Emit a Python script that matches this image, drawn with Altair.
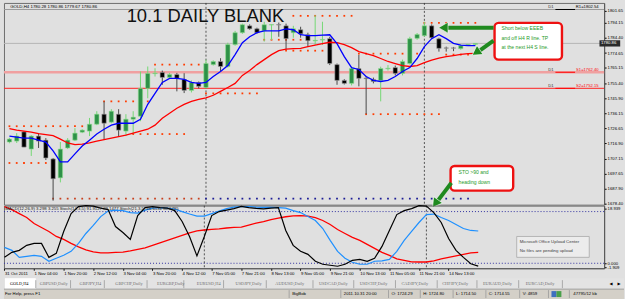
import altair as alt
import pandas as pd

# ------------------------------------------------------------------ data
bar = list(range(65))
open_ = [1717.8, 1718.4, 1724.29, 1713.3, 1721.6, 1719.0, 1707.0, 1694.9, 1714.0, 1719.0,
         1724.1, 1724.8, 1729.2, 1735.6, 1730.5, 1735.6, 1724.8, 1732.4, 1734.3, 1752.1,
         1761.5, 1762.3, 1759.1, 1761.0, 1757.8, 1750.8, 1755.9, 1752.7, 1767.3, 1769.3,
         1766.1, 1780.1, 1787.7, 1792.1, 1790.2, 1788.9, 1792.6, 1792.9, 1792.1, 1787.7,
         1789.6, 1786.4, 1782.4, 1783.0, 1783.9, 1767.3, 1757.2, 1755.3, 1764.8, 1758.7,
         1757.8, 1757.2, 1764.6, 1765.4, 1761.7, 1768.0, 1784.1, 1785.8, 1792.1, 1783.8,
         1778.0, 1778.0, 1777.5, 1779.5, 1780.28]
high = [1720.5, 1723.5, 1724.80, 1722.2, 1723.5, 1720.3, 1707.6, 1717.8, 1720.3, 1726.7,
        1726.0, 1733.2, 1737.5, 1743.8, 1738.8, 1738.8, 1735.6, 1737.5, 1762.9, 1766.1,
        1765.0, 1763.5, 1762.0, 1762.0, 1761.8, 1757.2, 1756.5, 1770.5, 1770.0, 1771.4,
        1781.3, 1788.9, 1793.5, 1793.0, 1790.9, 1794.7, 1793.0, 1794.2, 1793.5, 1792.1,
        1791.5, 1787.7, 1798.9, 1794.7, 1785.1, 1768.0, 1758.0, 1766.1, 1773.5, 1760.0,
        1759.0, 1766.0, 1767.0, 1766.7, 1770.5, 1785.1, 1787.5, 1794.7, 1793.0, 1784.5,
        1778.8, 1778.6, 1780.1, 1780.4, 1780.86]
low = [1717.0, 1717.2, 1714.50, 1708.9, 1714.0, 1706.3, 1680.3, 1692.0, 1713.3, 1718.4,
       1723.5, 1721.6, 1728.6, 1719.7, 1729.8, 1721.6, 1721.6, 1722.9, 1731.1, 1745.8,
       1759.7, 1754.4, 1758.5, 1750.2, 1749.1, 1749.5, 1752.1, 1752.0, 1766.7, 1762.9,
       1765.4, 1779.4, 1787.0, 1789.6, 1787.0, 1782.0, 1783.0, 1785.1, 1776.9, 1784.5,
       1784.5, 1778.8, 1779.9, 1779.9, 1767.0, 1754.4, 1754.6, 1754.0, 1753.4, 1735.6,
       1755.3, 1743.8, 1763.5, 1760.4, 1760.4, 1767.3, 1783.2, 1785.2, 1783.9, 1775.6,
       1775.6, 1775.9, 1776.8, 1779.2, 1779.67]
close = [1719.7, 1721.6, 1714.55, 1721.6, 1718.4, 1707.6, 1694.3, 1713.3, 1719.0, 1723.5,
         1725.4, 1729.2, 1735.6, 1729.8, 1737.5, 1725.4, 1732.4, 1733.7, 1752.1, 1761.7,
         1761.9, 1759.1, 1761.0, 1758.5, 1750.8, 1755.9, 1753.4, 1768.0, 1769.3, 1766.1,
         1780.1, 1787.7, 1792.8, 1790.2, 1787.7, 1792.8, 1792.9, 1792.6, 1783.9, 1790.2,
         1787.0, 1782.6, 1782.8, 1783.4, 1768.0, 1757.2, 1755.3, 1764.8, 1758.5, 1758.3,
         1756.5, 1764.8, 1765.0, 1761.7, 1769.3, 1783.9, 1786.6, 1792.1, 1784.5, 1777.7,
         1777.8, 1777.8, 1779.4, 1780.2, 1780.86]

ma_fast = [1721.6, 1720.9, 1720.3, 1720.3, 1719.0, 1717.8, 1712.1, 1705.1, 1705.1, 1710.2,
           1715.2, 1719.0, 1722.9, 1726.0, 1728.6, 1729.8, 1729.8, 1729.8, 1732.4, 1741.9,
           1748.9, 1755.9, 1758.5, 1758.5, 1757.8, 1755.9, 1755.3, 1755.9, 1759.7, 1762.9,
           1766.7, 1773.7, 1781.3, 1785.1, 1787.7, 1788.9, 1788.9, 1788.9, 1790.2, 1789.6,
           1786.4, 1785.8, 1785.8, 1786.1, 1786.4, 1780.7, 1772.4, 1765.4, 1764.2, 1759.7,
           1757.2, 1756.5, 1757.2, 1759.7, 1762.9, 1765.4, 1771.2, 1778.8, 1783.9, 1786.4,
           1783.9, 1780.9, 1779.7, 1779.4, 1779.4]
ma_slow = [1726.4, 1725.4, 1724.8, 1724.1, 1723.2, 1722.5, 1721.9, 1719.7, 1717.2, 1716.2,
           1716.5, 1717.2, 1718.4, 1719.4, 1720.3, 1721.3, 1722.2, 1723.5, 1724.8, 1726.0,
           1728.6, 1733.0, 1736.2, 1739.4, 1741.9, 1743.8, 1745.1, 1746.1, 1747.7, 1750.2,
           1752.7, 1755.3, 1760.4, 1763.5, 1767.3, 1770.5, 1773.7, 1776.2, 1777.2, 1777.5,
           1777.7, 1778.8, 1779.7, 1780.7, 1781.6, 1781.3, 1780.1, 1778.2, 1775.6, 1774.3,
           1773.1, 1771.2, 1769.3, 1768.0, 1766.7, 1766.1, 1766.7, 1768.6, 1770.2, 1771.5,
           1772.4, 1773.1, 1773.9, 1774.3, 1774.5]

sto_main = [19.2, 26.9, 30.0, 37.7, 40.8, 40.8, 19.2, 25.4, 59.2, 86.9,
            97.7, 99.2, 98.4, 95.4, 93.1, 66.9, 57.7, 46.9, 83.8, 96.1,
            97.7, 96.1, 95.4, 91.5, 74.6, 51.5, 21.5, 51.5, 83.8, 90.0,
            92.3, 94.6, 98.1, 96.1, 95.0, 94.2, 95.4, 96.1, 60.8, 37.7,
            28.5, 23.8, 13.1, 8.5, 6.9, 5.4, 8.5, 14.6, 16.1, 13.1,
            17.7, 36.1, 60.8, 85.4, 91.5, 94.6, 99.2, 98.4, 88.5, 73.1,
            48.4, 30.0, 19.2, 9.2, 5.6]
sto_signal = [34.6, 30.0, 19.2, 20.8, 22.3, 20.8, 13.1, 17.7, 22.3, 28.5,
              40.8, 56.1, 68.5, 82.3, 90.8, 92.3, 91.5, 88.5, 87.7, 92.3,
              95.4, 96.1, 95.4, 93.8, 90.0, 86.2, 83.1, 83.1, 86.9, 90.8,
              94.6, 96.9, 97.7, 97.7, 96.9, 96.6, 96.6, 96.1, 95.4, 91.5,
              88.5, 82.3, 76.2, 63.8, 45.4, 28.5, 17.7, 11.5, 8.5, 8.5,
              13.1, 13.8, 16.1, 28.5, 45.4, 59.2, 73.1, 85.4, 86.2, 80.8,
              76.2, 70.0, 63.8, 60.8, 60.0]
osc_slow = [97.7, 93.1, 86.9, 80.8, 71.5, 65.4, 59.2, 51.5, 46.9, 40.8,
            35.4, 30.8, 27.7, 26.1, 26.1, 26.9, 27.4, 29.2, 31.5, 33.8,
            37.7, 41.5, 45.4, 49.2, 53.1, 56.9, 60.0, 61.5, 62.6, 63.4,
            64.6, 65.7, 66.1, 69.2, 72.3, 74.6, 77.7, 80.0, 82.0, 83.5,
            83.8, 83.1, 80.8, 76.2, 70.0, 62.3, 56.1, 50.0, 45.4, 39.2,
            33.1, 26.9, 22.3, 16.9, 14.6, 12.3, 12.0, 12.0, 13.8, 16.9,
            19.2, 21.5, 23.8, 26.1, 27.0]

price_ticks = [1801.65, 1794.15, 1784.40, 1774.65, 1765.15, 1755.40, 1745.90,
               1736.15, 1726.65, 1716.90, 1707.15, 1697.65, 1687.90, 1678.40]
osc_ticks = [94.6, 10.0, 3.9]
osc_tick_labels = ["18.939", "0.000", "-1.909"]
osc_levels = [90, 10]

time_ticks = [0, 4, 8, 12, 16, 20, 24, 28, 32, 36, 40, 44, 48, 52, 56, 60]
time_labels = ["31 Oct 2011", "1 Nov 04:00", "1 Nov 20:00", "2 Nov 12:00", "3 Nov 04:00",
               "3 Nov 20:00", "4 Nov 12:00", "7 Nov 05:00", "7 Nov 21:00", "8 Nov 13:00",
               "9 Nov 05:00", "9 Nov 21:00", "10 Nov 13:00", "11 Nov 05:00", "11 Nov 21:00",
               "14 Nov 13:00"]

week_separators = [27, 57]
bid_price = 1780.86
pivot_names = ["R1", "S1", "S2"]
pivot_levels = [1802.54, 1762.40, 1752.15]

dot_levels = [1767.3, 1748.9, 1798.5, 1794.0, 1783.2, 1776.2, 1774.3, 1773.7, 1735.6,
              1743.8, 1727.9, 1722.9, 1704.4, 1681.6, 1681.6]
dot_start = [20, 27, 39, 57, 35, 38, 48, 60, 49, 13, 0, 17, 0, 6, 27]
dot_end = [26, 34, 47, 64, 41, 44, 56, 63, 59, 19, 10, 24, 5, 26, 63]
dot_colors = ["#ff3c00"] * 13 + ["#c8401e", "#1e1e96"]

header_text = "GOLD,H4  1780.28 1780.86 1779.67 1780.86"
osc_header = "MACD(12,26,9) 3.298 3.255  Stoch(14,3,5) 91.9127 89.1477  Stoch(21,3,5) 66.6531 80.6795"
chart_title = "10.1 DAILY BLANK"
note1 = ["Short below EEEB", "and off H4 R line. TP", "at the next H4 S line."]
note2 = ["STO >90 and", "heading down"]
popup = ["Microsoft Office Upload Center", "No files are pending upload"]

tabs = ["GOLD,H4", "GBPUSD,Daily", "GBPJPY,H4", "GBPCHF,Daily", "EURGBP,Daily", "EURUSD,H4",
        "USDJPY,Daily", "AUDUSD,Daily", "USDCAD,Daily", "USDCHF,Daily", "CADJPY,Daily",
        "CHFJPY,Daily", "EURAUD,Daily", "EURCAD,Daily"]
status = ["For Help, press F1", "BigBob", "2011.10.31 20:00", "O: 1724.29", "H: 1724.80",
          "L: 1714.50", "C: 1714.55", "V: 4859", "47795/12 kb"]

# ------------------------------------------------------------------ layout / style
FONT = "Liberation Sans"
NARROW = "Liberation Sans Narrow"
W = 604
H_MAIN = 203
H_OSC = 63
x_scale = alt.Scale(domain=[-0.067, 81.01], nice=False, zero=False)
p_scale = alt.Scale(domain=[1677.76, 1806.73], nice=False, zero=False)
o_scale = alt.Scale(domain=[2.3, 99.2], nice=False, zero=False)

price_axis = alt.Axis(orient="right", values=price_ticks, format=".2f", title=None, grid=False,
                      labelFont=FONT, labelFontSize=4.3, labelColor="#000", labelPadding=1,
                      labelFlush=False, labelOverlap=False, tickSize=2, tickColor="#000",
                      domainColor="#555", domainWidth=1)

osc_label_expr = ("[" + ",".join(f"'{t}'" for t in osc_tick_labels) + "][indexof(["
                  + ",".join(str(v) for v in osc_ticks) + "], datum.value)]")
osc_axis = alt.Axis(orient="right", values=osc_ticks, labelExpr=osc_label_expr, title=None,
                    grid=False, labelFont=FONT, labelFontSize=4.2, labelColor="#000",
                    labelPadding=1, labelFlush=False, labelOverlap=False, tickSize=2,
                    tickColor="#000", domainColor="#555")

time_label_expr = ("[" + ",".join(f"'{t}'" for t in time_labels) + "][indexof(["
                   + ",".join(str(v) for v in time_ticks) + "], datum.value)]")
time_axis = alt.Axis(values=time_ticks, labelExpr=time_label_expr, title=None, grid=False,
                     labelFont=FONT, labelFontSize=4.3, labelColor="#000", labelAlign="left",
                     labelBaseline="top", labelPadding=1, labelFlush=False,
                     labelOverlap=False, tickSize=2, tickColor="#000", domainColor="#555")


def X(field="i"):
    return alt.X(f"{field}:Q", scale=x_scale, axis=None)


def XO(field="i"):
    return alt.X(f"{field}:Q", scale=x_scale, axis=time_axis)


def P(field="p"):
    return alt.Y(f"{field}:Q", scale=p_scale, axis=price_axis)


def O(field="v"):
    return alt.Y(f"{field}:Q", scale=o_scale, axis=osc_axis)


# ------------------------------------------------------------------ frames
cdf = pd.DataFrame({"i": bar, "o": open_, "h": high, "l": low, "c": close})
cdf["dir"] = ["up" if c >= o else "down" for o, c in zip(open_, close)]
dir_dom = ["up", "down"]

ma_df = pd.DataFrame({"i": bar, "fast": ma_fast, "slow": ma_slow})
osc_df = pd.DataFrame({"i": bar, "main": sto_main, "sig": sto_signal, "slow": osc_slow})

dots = []
for lvl, s, e, col in zip(dot_levels, dot_start, dot_end, dot_colors):
    for k in range(s, e + 1):
        dots.append({"i": k, "p": lvl, "col": col})
dot_df = pd.DataFrame(dots)

piv_df = pd.DataFrame({"name": pivot_names, "p": pivot_levels,
                       "label": [f"{n}={v:.2f}" for n, v in zip(pivot_names, pivot_levels)],
                       "col": ["#000000", "#ff0000", "#ff0000"],
                       "i1": [75.0] * 3, "i2": [77.7] * 3, "iD": [74.0] * 3, "iL": [81.0] * 3})
sep_df = pd.DataFrame({"i": week_separators})

# ------------------------------------------------------------------ main panel
lvl_rules = alt.Chart(pd.DataFrame({"p": [pivot_levels[0]]})).mark_rule(
    color="#9a9a9a", strokeWidth=1).encode(y=P())
s1_rule = alt.Chart(pd.DataFrame({"p": [pivot_levels[1]]})).mark_rule(
    color="#f0a0a0", strokeWidth=2.5).encode(y=P())
s2_rule = alt.Chart(pd.DataFrame({"p": [pivot_levels[2]]})).mark_rule(
    color="#ff2020", strokeWidth=1).encode(y=P())
bid_rule = alt.Chart(pd.DataFrame({"p": [bid_price]})).mark_rule(
    color="#b4b4b4", strokeWidth=1).encode(y=P())
sep_rule = alt.Chart(sep_df).mark_rule(color="#303030", strokeWidth=0.8,
                                       strokeDash=[2, 2]).encode(x=X())
dot_layer = alt.Chart(dot_df).mark_square(size=3.2, opacity=1).encode(
    x=X(), y=P(), color=alt.Color("col:N", scale=None))

wicks = alt.Chart(cdf).mark_rule(strokeWidth=1).encode(
    x=X(), y=P("l"), y2="h:Q",
    color=alt.Color("dir:N", scale=alt.Scale(domain=dir_dom, range=["#74d874", "#4a4a4a"]),
                    legend=None))
bodies = alt.Chart(cdf).mark_bar(size=4.4, strokeWidth=0.6).encode(
    x=X(), y=P("o"), y2="c:Q",
    fill=alt.Fill("dir:N", scale=alt.Scale(domain=dir_dom, range=["#2e9148", "#000000"]),
                  legend=None),
    stroke=alt.Stroke("dir:N", scale=alt.Scale(domain=dir_dom, range=["#8fe08f", "#a0a0a0"]),
                      legend=None))

slow_line = alt.Chart(ma_df).mark_line(color="#ff0000", strokeWidth=1.3).encode(x=X(), y=P("slow"))
fast_line = alt.Chart(ma_df).mark_line(color="#0000ff", strokeWidth=1.3).encode(x=X(), y=P("fast"))

piv_seg = alt.Chart(piv_df).mark_rule(strokeWidth=1).encode(
    x=X("i1"), x2="i2:Q", y=P(), color=alt.Color("col:N", scale=None))
piv_d1 = alt.Chart(piv_df).mark_text(text="D1", font=FONT, fontSize=4.2, align="left",
                                     baseline="bottom", dy=-0.5, color="#333").encode(
    x=X("iD"), y=P())
piv_lab = alt.Chart(piv_df).mark_text(font=FONT, fontSize=4.2, align="right",
                                      baseline="bottom", dy=-0.3, dx=-0.5).encode(
    x=X("iL"), y=P(), text="label:N", color=alt.Color("col:N", scale=None))

price_box = alt.Chart(pd.DataFrame({"i1": [81.05], "i2": [83.9], "p1": [bid_price + 2.0],
                                    "p2": [bid_price - 2.0], "pm": [bid_price],
                                    "t": [f"{bid_price:.2f}"]}))
box_rect = price_box.mark_rect(color="#2a2a2a", clip=False).encode(
    x=X("i1"), x2="i2:Q", y=P("p1"), y2="p2:Q")
box_text = price_box.mark_text(font=FONT, fontSize=4.3, color="#ffffff", align="left",
                               baseline="middle", dx=1.5, clip=False).encode(
    x=X("i1"), y=P("pm"), text="t:N")

head = alt.Chart(pd.DataFrame({"i": [0.1], "p": [1804.2], "t": [header_text]})).mark_text(
    font=FONT, fontSize=4.4, align="left", baseline="middle", color="#000").encode(
    x=X(), y=P(), text="t:N")
title = alt.Chart(pd.DataFrame({"i": [16.1], "p": [1794.8], "t": [chart_title]})).mark_text(
    font=FONT, fontSize=18.5, align="left", baseline="alphabetic", color="#111").encode(
    x=X(), y=P(), text="t:N")

# callouts
box_df = pd.DataFrame({"i1": [66.64, 60.6], "i2": [75.9, 69.2],
                       "p1": [1794.0, 1702.5], "p2": [1770.5, 1686.7]})
boxes = alt.Chart(box_df).mark_rect(fill="#ffffff", stroke="#ee1111", strokeWidth=2.4,
                                    cornerRadius=4).encode(
    x=X("i1"), x2="i2:Q", y=P("p1"), y2="p2:Q")
note_df = pd.DataFrame({"i": [67.6] * 3 + [61.7] * 2,
                        "p": [1790.4, 1784.5, 1778.8, 1698.9, 1692.4],
                        "t": note1 + note2})
notes = alt.Chart(note_df).mark_text(font=FONT, fontSize=5.1, align="left", baseline="middle",
                                     color="#1f9a1f").encode(x=X(), y=P(), text="t:N")

shaft_df = pd.DataFrame({"i1": [66.5, 66.5, 60.7], "p1": [1790.9, 1782.6, 1691.7],
                         "i2": [60.2, 64.4, 58.7], "p2": [1790.9, 1775.6, 1679.4]})
shafts = alt.Chart(shaft_df).mark_rule(color="#1f8a1f", strokeWidth=4, clip=False).encode(
    x=X("i1"), x2="i2:Q", y=P("p1"), y2="p2:Q")
head_df = pd.DataFrame({"i": [59.6, 64.1, 58.5], "p": [1790.9, 1775.0, 1678.4],
                        "ang": [270, 236, 216]})
heads = alt.Chart(head_df).mark_point(shape="triangle-up", filled=True, size=120, opacity=1,
                                      color="#1f8a1f", stroke="#ffffff", strokeWidth=0.6,
                                      clip=False).encode(
    x=X(), y=P(), angle=alt.Angle("ang:Q", scale=None))

main = alt.layer(lvl_rules, s1_rule, s2_rule, bid_rule, sep_rule, dot_layer, wicks, bodies,
                 slow_line, fast_line, piv_seg, piv_d1, piv_lab, box_rect, box_text, head,
                 title, boxes, notes, shafts, heads).properties(width=W, height=H_MAIN)

# ------------------------------------------------------------------ oscillator panel
osc_lvl = alt.Chart(pd.DataFrame({"v": osc_levels})).mark_rule(
    color="#3030a0", strokeWidth=1, strokeDash=[1, 2]).encode(y=O("v"))
osc_sep = alt.Chart(sep_df).mark_rule(color="#303030", strokeWidth=0.8,
                                      strokeDash=[2, 2]).encode(x=XO())
osc_red = alt.Chart(osc_df).mark_line(color="#ff0000", strokeWidth=1.3).encode(x=XO(), y=O("slow"))
osc_blue = alt.Chart(osc_df).mark_line(color="#1e90ff", strokeWidth=1.2).encode(x=XO(), y=O("sig"))
osc_black = alt.Chart(osc_df).mark_line(color="#000000", strokeWidth=1.2).encode(x=XO(), y=O("main"))
osc_head = alt.Chart(pd.DataFrame({"i": [0.1], "v": [94.6], "t": [osc_header]})).mark_text(
    font=FONT, fontSize=4.3, align="left", baseline="middle", color="#202020").encode(
    x=XO(), y=O(), text="t:N")
pop_box = alt.Chart(pd.DataFrame({"i1": [69.2], "i2": [79.0], "v1": [51.5], "v2": [19.2]})).mark_rect(
    fill="#ececec", stroke="#a8a8a8", strokeWidth=0.8).encode(x=XO("i1"), x2="i2:Q", y=O("v1"), y2="v2:Q")
pop_txt = alt.Chart(pd.DataFrame({"i": [69.6, 69.6], "v": [42.8, 28.5], "t": popup})).mark_text(
    font=FONT, fontSize=4.4, align="left", baseline="middle", color="#404040").encode(
    x=XO(), y=O(), text="t:N")

osc = alt.layer(osc_lvl, osc_sep, osc_red, osc_blue, osc_black, osc_head, pop_box,
                pop_txt).properties(width=W, height=H_OSC)

# ------------------------------------------------------------------ terminal chrome (tabs + status bar)
cx = alt.Scale(domain=[1, 625], nice=False, zero=False)
cy = alt.Scale(domain=[269, 299], nice=False, zero=False, reverse=True)
tab_x = [7, 37, 77, 113, 155, 195, 234, 274, 318, 359, 401, 442, 483, 526]
tab_sep = [33, 68, 102, 145, 182, 222, 265, 312, 353, 395, 437, 477, 519, 563]
stat_x = [2, 291, 343, 391, 423, 456, 489, 523, 574]
stat_sep = [288, 340, 388, 420, 453, 486, 520, 549, 570]

rect_df = pd.DataFrame({"x": [1, 1, 2, 552, 557], "x2": [625, 625, 33, 557, 562],
                        "y": [278, 289, 278, 291, 291], "y2": [289, 299, 289, 297, 297],
                        "f": ["#e3e3e3", "#d4d0c8", "#ffffff", "#3f6fbf", "#4aa04a"]})
c_rects = alt.Chart(rect_df).mark_rect().encode(
    x=alt.X("x:Q", scale=cx, axis=None), x2="x2:Q",
    y=alt.Y("y:Q", scale=cy, axis=None), y2="y2:Q", color=alt.Color("f:N", scale=None))
sep_rows = ([{"x": s, "y": 280, "y2": 288} for s in tab_sep]
            + [{"x": s, "y": 290, "y2": 298} for s in stat_sep])
c_seps = alt.Chart(pd.DataFrame(sep_rows)).mark_rule(color="#9a9a9a", strokeWidth=0.8).encode(
    x=alt.X("x:Q", scale=cx, axis=None), y=alt.Y("y:Q", scale=cy, axis=None), y2="y2:Q")
c_line = alt.Chart(pd.DataFrame({"y": [289]})).mark_rule(color="#a0a0a0").encode(
    y=alt.Y("y:Q", scale=cy, axis=None))
tab_df = pd.DataFrame({"x": tab_x, "y": [283.6] * len(tabs), "t": tabs,
                       "c": ["#000000"] + ["#707070"] * (len(tabs) - 1)})
c_tabs = alt.Chart(tab_df).mark_text(font=NARROW, fontSize=4.4, align="left",
                                     baseline="middle").encode(
    x=alt.X("x:Q", scale=cx, axis=None), y=alt.Y("y:Q", scale=cy, axis=None), text="t:N",
    color=alt.Color("c:N", scale=None))
stat_df = pd.DataFrame({"x": stat_x, "y": [294.3] * len(status), "t": status})
c_stat = alt.Chart(stat_df).mark_text(font=FONT, fontSize=4.3, align="left", baseline="middle",
                                      color="#000").encode(
    x=alt.X("x:Q", scale=cx, axis=None), y=alt.Y("y:Q", scale=cy, axis=None), text="t:N")
arr_df = pd.DataFrame({"x": [612, 620], "y": [283.6, 283.6], "t": ["◀", "▶"]})
c_arr = alt.Chart(arr_df).mark_text(font="DejaVu Sans", fontSize=4, align="center",
                                    baseline="middle", color="#000").encode(
    x=alt.X("x:Q", scale=cx, axis=None), y=alt.Y("y:Q", scale=cy, axis=None), text="t:N")

chrome = alt.layer(c_rects, c_line, c_seps, c_tabs, c_stat, c_arr).properties(
    width=624, height=30, view=alt.ViewBackground(stroke="transparent"))

chart = alt.vconcat(main, osc, chrome, spacing=1, bounds="flush").resolve_scale(
    x="independent", y="independent", color="independent", fill="independent",
    stroke="independent").properties(
    padding={"left": 1, "top": 1, "right": 0, "bottom": 0}, background="#e0e0e0"
).configure_view(stroke="#6f6f6f", strokeWidth=1)

chart.save("out.html", embed_options={"renderer": "svg", "actions": False})
